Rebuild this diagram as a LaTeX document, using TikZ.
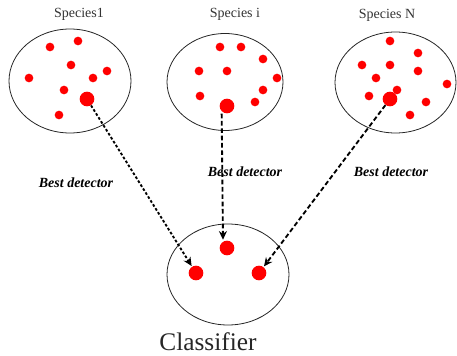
\documentclass[tikz,border=0pt]{standalone}
\usepackage{fontspec}
\setmainfont{Liberation Serif}
\usetikzlibrary{shapes.geometric,arrows.meta}
\begin{document}
\begin{tikzpicture}[x=0.75pt,y=-0.75pt,
  grp/.style={draw=black!85,line width=0.6pt,ellipse,inner sep=0pt},
  dot/.style={circle,fill=red,inner sep=0pt,minimum size=6.5pt},
  bigdot/.style={circle,fill=red,inner sep=0pt,minimum size=11pt},
  conn/.style={line width=1.4pt,-{Stealth[length=6.5pt,width=6pt]},shorten >=0.5pt},
  fine/.style={dash pattern=on 2pt off 1.5pt},
  coarse/.style={dash pattern=on 3.5pt off 2pt},
  title/.style={font=\fontsize{10.5}{12}\selectfont,text=black!80},
  lbl/.style={font=\fontsize{10.5}{12}\selectfont\bfseries\itshape}]
\useasboundingbox (0,0) rectangle (457,356);
% group ellipses
\node[grp,minimum width=91.5pt,minimum height=78pt] (e1) at (70,81) {};
\node[grp,minimum width=87pt,minimum height=72.75pt] (e2) at (225,82) {};
\node[grp,minimum width=90.75pt,minimum height=75.75pt] (e3) at (395.5,82.5) {};
\node[grp,minimum width=91.5pt,minimum height=75.75pt] (ec) at (228,274.5) {};
% titles
\node[title] (t1) at (79,14) {Species1};
\node[title] (t2) at (235,14) {Species i};
\node[title] (t3) at (387,15) {Species N};
% species 1 dots
\node[dot] (a1) at (50,47) {};
\node[dot] (a2) at (78,41) {};
\node[dot] (a3) at (71,65) {};
\node[dot] (a4) at (29,78) {};
\node[dot] (a5) at (93,78) {};
\node[dot] (a6) at (107,71) {};
\node[dot] (a7) at (64,90) {};
\node[dot] (a8) at (59,115) {};
\node[bigdot] (b1) at (87,99) {};
% species i dots
\node[dot] (d1) at (220,47) {};
\node[dot] (d2) at (241,47) {};
\node[dot] (d3) at (263,59) {};
\node[dot] (d4) at (199,71) {};
\node[dot] (d5) at (227,71) {};
\node[dot] (d6) at (277,78) {};
\node[dot] (d7) at (263,90) {};
\node[dot] (d8) at (200,96) {};
\node[dot] (d9) at (255,102) {};
\node[bigdot] (b2) at (227,106) {};
% species N dots
\node[dot] (f1) at (390,41) {};
\node[dot] (f2) at (418,53) {};
\node[dot] (f3) at (362,65) {};
\node[dot] (f4) at (390,65) {};
\node[dot] (f5) at (418,71) {};
\node[dot] (f6) at (376,78) {};
\node[dot] (f7) at (447,84) {};
\node[dot] (f8) at (397,90) {};
\node[dot] (f9) at (369,96) {};
\node[dot] (f10) at (426,102) {};
\node[dot] (f11) at (410,115) {};
\node[bigdot] (b3) at (390,99) {};
% classifier dots
\node[bigdot] (c1) at (227,248) {};
\node[bigdot] (c2) at (196,273) {};
\node[bigdot] (c3) at (259,273) {};
% connectors
\draw[conn,fine] (b1) -- (c2);
\draw[conn,coarse] ([xshift=-4pt]b2.south) -- ([xshift=-3pt]c1.north);
\draw[conn,coarse] (b3) -- (c3);
% labels
\node[lbl] (l1) at (76,183) {Best detector};
\node[lbl] (l2) at (245,172) {Best detector};
\node[lbl] (l3) at (391,172) {Best detector};
\node[font=\fontsize{19}{22}\selectfont,text=black!85] (cl) at (208,342) {Classifier};
\end{tikzpicture}
\end{document}
